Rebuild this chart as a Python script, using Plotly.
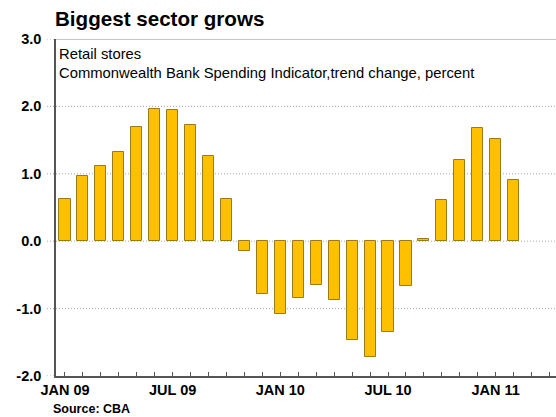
import plotly.graph_objects as go

# Monthly trend change in retail store spending, Jan 2009 - Feb 2011
months = ["Jan 09", "Feb 09", "Mar 09", "Apr 09", "May 09", "Jun 09", "Jul 09", "Aug 09",
          "Sep 09", "Oct 09", "Nov 09", "Dec 09", "Jan 10", "Feb 10", "Mar 10", "Apr 10",
          "May 10", "Jun 10", "Jul 10", "Aug 10", "Sep 10", "Oct 10", "Nov 10", "Dec 10",
          "Jan 11", "Feb 11"]
change = [0.62, 0.97, 1.12, 1.32, 1.69, 1.96, 1.94, 1.72,
          1.27, 0.62, -0.14, -0.79, -1.08, -0.85, -0.65, -0.87,
          -1.46, -1.72, -1.34, -0.66, 0.03, 0.61, 1.21, 1.68,
          1.52, 0.91]

# axis extends two months past the last observation (Mar 11, Apr 11)
n_ticks = len(months) + 2
tick_labels = {0: "JAN 09", 6: "JUL 09", 12: "JAN 10", 18: "JUL 10", 24: "JAN 11"}
y_ticks = [3.0, 2.0, 1.0, 0.0, -1.0, -2.0]

FONT = "Liberation Sans, Arial, sans-serif"
x_pos = list(range(len(months)))

fig = go.Figure()
fig.add_trace(go.Bar(
    x=x_pos, y=change, width=0.62,
    marker=dict(color="#FFC000", line=dict(color="#9A7B10", width=1)),
    hovertext=months, showlegend=False,
))

shapes = []
# dotted gridlines that poke out to the left of the axis
for v in y_ticks:
    shapes.append(dict(type="line", xref="paper", yref="y", x0=-0.018, x1=0 if v in (3.0, -2.0) else 1,
                       y0=v, y1=v, line=dict(color="#a8a8a8", width=1, dash="1px,2px"), layer="below"))
# solid top frame line
shapes.append(dict(type="line", xref="paper", yref="y", x0=0, x1=1, y0=3.0, y1=3.0,
                   line=dict(color="#8c8c8c", width=1.2)))

annotations = [
    dict(text="<b>Biggest sector grows</b>", xref="paper", yref="paper", x=0, y=1,
         xanchor="left", yanchor="bottom", xshift=-3, yshift=7, showarrow=False,
         font=dict(family=FONT, size=20.6, color="#000")),
    dict(text="Retail stores", xref="paper", yref="paper", x=0, y=1,
         xanchor="left", yanchor="top", xshift=1, yshift=-5, showarrow=False,
         font=dict(family=FONT, size=14.8, color="#000")),
    dict(text="Commonwealth Bank Spending Indicator,trend change, percent", xref="paper", yref="paper",
         x=0, y=1, xanchor="left", yanchor="top", xshift=1, yshift=-24, showarrow=False,
         font=dict(family=FONT, size=14.8, color="#000")),
    dict(text="<b>Source: CBA</b>", xref="paper", yref="paper", x=0, y=0,
         xanchor="left", yanchor="top", xshift=-5, yshift=-24, showarrow=False,
         font=dict(family=FONT, size=12.5, color="#000")),
]

fig.update_layout(
    width=556, height=417,
    margin=dict(l=56, r=0, t=39, b=41, autoexpand=False),
    paper_bgcolor="white", plot_bgcolor="white",
    bargap=0,
    shapes=shapes, annotations=annotations,
    font=dict(family=FONT, color="#000"),
    xaxis=dict(
        range=[-0.5, 27.36],
        tickmode="array", tickvals=list(range(n_ticks)),
        ticktext=[f"<b>{tick_labels[i]}</b>" if i in tick_labels else "" for i in range(n_ticks)],
        tickangle=0, automargin=False,
        ticks="inside", ticklen=4, tickcolor="#555", tickwidth=1,
        tickfont=dict(size=14.5, family=FONT, color="#000"),
        showline=True, linecolor="#555", linewidth=1.5,
        showgrid=False, zeroline=False, fixedrange=True,
    ),
    yaxis=dict(
        range=[-2.0, 3.0],
        tickmode="array", tickvals=y_ticks,
        ticktext=[f"<b>{v:.1f}</b>" for v in y_ticks],
        ticks="", ticklabelstandoff=10, automargin=False,
        tickfont=dict(size=14.5, family=FONT, color="#000"),
        showline=True, linecolor="#555", linewidth=1.5,
        showgrid=False, zeroline=False, fixedrange=True,
    ),
)

fig.write_html("out.html")
